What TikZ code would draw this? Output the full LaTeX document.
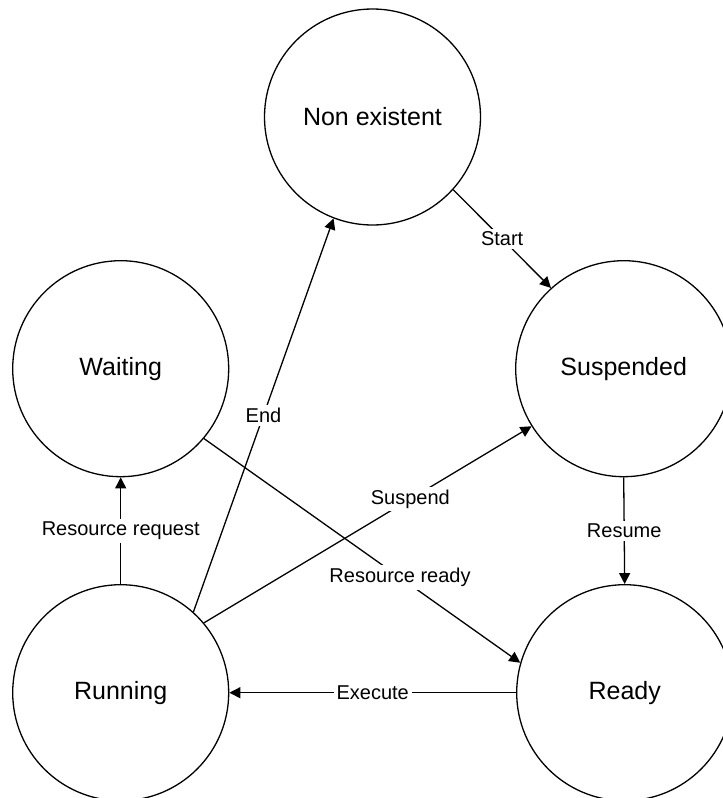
\documentclass[tikz,border=0pt]{standalone}
\usepackage{fontspec}
\setmainfont{Liberation Sans}
\usetikzlibrary{arrows.meta}
\begin{document}
\begin{tikzpicture}[x=1pt,y=-1pt,
  state/.style={circle,draw,line width=1.3pt,minimum size=216pt,inner sep=0pt,
    font=\fontsize{25}{30}\selectfont},
  trans/.style={line width=1.3pt,-{Triangle[length=11pt,width=11pt]}},
  lbl/.style={fill=white,inner sep=3pt,font=\fontsize{20}{24}\selectfont}]
\useasboundingbox (0,0) rectangle (723,798);
\node[state] (ne)    at (372.5,117)   {Non existent};
\node[state] (wait)  at (120.7,368.7) {Waiting};
\node[state] (sus)   at (623.7,368.7) {Suspended};
\node[state] (run)   at (120.7,692.7) {Running};
\node[state] (ready) at (624.7,692.7) {Ready};

\draw[trans] (ne.-42.3) -- node[lbl] {Start} (sus.132.9);
\draw[trans] (sus.south) -- node[lbl] {Resume} (ready.north);
\draw[trans] (ready.west) -- node[lbl] {Execute} (run.east);
\draw[trans] (run.north) -- node[lbl] {Resource request} (wait.south);
\draw[trans] (run.48) -- node[lbl] {End} (ne.249);
\draw[trans] (run.40) -- node[lbl,pos=0.63] {Suspend} (sus.212);
\draw[trans] (wait.-40) -- node[lbl,pos=0.62] {Resource ready} (ready.164);
\end{tikzpicture}
\end{document}
